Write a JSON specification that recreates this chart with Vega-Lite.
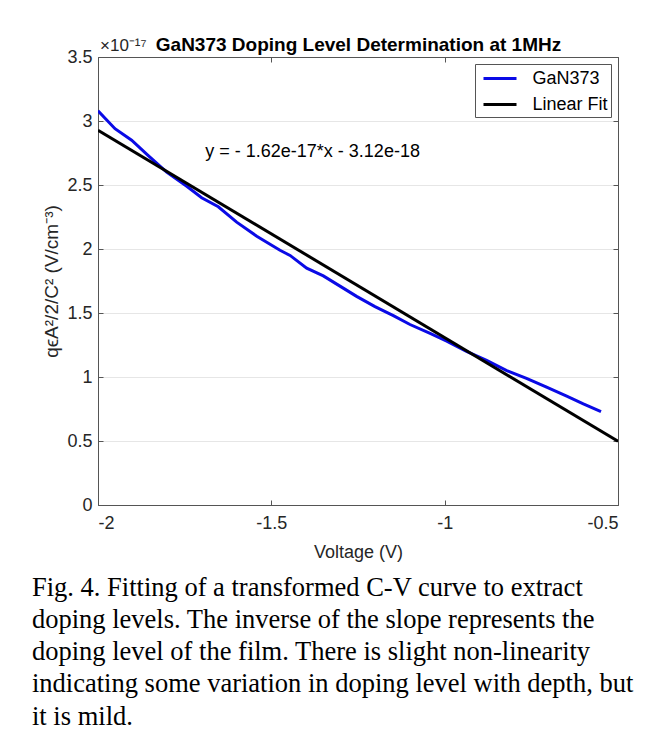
{
  "$schema": "https://vega.github.io/schema/vega-lite/v6.json",
  "width": 520,
  "height": 448,
  "autosize": {"type": "none"},
  "padding": {"left": 98, "top": 57, "right": 48, "bottom": 235},
  "background": "white",
  "config": {
    "view": {"stroke": null},
    "font": "Liberation Sans"
  },
  "title": {
    "text": [
      "Fig. 4. Fitting of a transformed C-V curve to extract",
      "doping levels. The inverse of the slope represents the",
      "doping level of the film. There is slight non-linearity",
      "indicating some variation in doping level with depth, but",
      "it is mild."
    ],
    "orient": "bottom",
    "anchor": "start",
    "frame": "group",
    "dx": -66,
    "offset": 13.5,
    "font": "Liberation Serif",
    "fontSize": 26.5,
    "fontWeight": "normal",
    "color": "#000000",
    "lineHeight": 32.3,
    "baseline": "top"
  },
  "data": {
    "values": [
      {"V": -2.000, "Q": 3.08, "series": "GaN373"},
      {"V": -1.951, "Q": 2.94, "series": "GaN373"},
      {"V": -1.903, "Q": 2.85, "series": "GaN373"},
      {"V": -1.855, "Q": 2.73, "series": "GaN373"},
      {"V": -1.802, "Q": 2.60, "series": "GaN373"},
      {"V": -1.744, "Q": 2.49, "series": "GaN373"},
      {"V": -1.701, "Q": 2.40, "series": "GaN373"},
      {"V": -1.653, "Q": 2.33, "series": "GaN373"},
      {"V": -1.600, "Q": 2.21, "series": "GaN373"},
      {"V": -1.542, "Q": 2.10, "series": "GaN373"},
      {"V": -1.475, "Q": 1.99, "series": "GaN373"},
      {"V": -1.446, "Q": 1.95, "series": "GaN373"},
      {"V": -1.398, "Q": 1.85, "series": "GaN373"},
      {"V": -1.350, "Q": 1.79, "series": "GaN373"},
      {"V": -1.302, "Q": 1.71, "series": "GaN373"},
      {"V": -1.254, "Q": 1.63, "series": "GaN373"},
      {"V": -1.201, "Q": 1.55, "series": "GaN373"},
      {"V": -1.148, "Q": 1.48, "series": "GaN373"},
      {"V": -1.100, "Q": 1.41, "series": "GaN373"},
      {"V": -1.042, "Q": 1.34, "series": "GaN373"},
      {"V": -0.994, "Q": 1.28, "series": "GaN373"},
      {"V": -0.937, "Q": 1.20, "series": "GaN373"},
      {"V": -0.879, "Q": 1.13, "series": "GaN373"},
      {"V": -0.821, "Q": 1.05, "series": "GaN373"},
      {"V": -0.764, "Q": 0.99, "series": "GaN373"},
      {"V": -0.706, "Q": 0.92, "series": "GaN373"},
      {"V": -0.648, "Q": 0.85, "series": "GaN373"},
      {"V": -0.600, "Q": 0.79, "series": "GaN373"},
      {"V": -0.549, "Q": 0.73, "series": "GaN373"},
      {"V": -2.000, "Q": 2.928, "series": "Linear Fit"},
      {"V": -0.500, "Q": 0.498, "series": "Linear Fit"}
    ]
  },
  "layer": [
    {
      "mark": {"type": "line", "strokeWidth": 3, "clip": true},
      "encoding": {
        "x": {
          "field": "V", "type": "quantitative",
          "scale": {"domain": [-2, -0.5], "nice": false, "zero": false},
          "axis": {
            "orient": "bottom",
            "values": [-2, -1.5, -1, -0.5],
            "labelExpr": "'' + datum.value",
            "grid": false,
            "tickSize": -5, "tickColor": "#555555", "domainColor": "#555555",
            "labelFont": "Liberation Sans", "labelFontSize": 18, "labelColor": "#262626",
            "labelPadding": 14,
            "title": "Voltage (V)",
            "titleFont": "Liberation Sans", "titleFontSize": 18, "titleFontWeight": "normal", "titleColor": "#262626",
            "titlePadding": 11
          }
        },
        "y": {
          "field": "Q", "type": "quantitative",
          "scale": {"domain": [0, 3.5], "nice": false, "zero": false},
          "axis": {
            "orient": "left",
            "values": [0, 0.5, 1, 1.5, 2, 2.5, 3, 3.5],
            "labelExpr": "'' + datum.value",
            "grid": true, "gridColor": "#e6e6e6",
            "tickSize": -5, "tickColor": "#555555", "domainColor": "#555555",
            "labelFont": "Liberation Sans", "labelFontSize": 18, "labelColor": "#262626",
            "labelPadding": 11,
            "title": "qϵA²/2/C² (V/cm⁻³)",
            "titleFont": "Liberation Sans", "titleFontSize": 19, "titleFontWeight": "normal", "titleColor": "#262626",
            "titlePadding": 5
          }
        },
        "color": {
          "field": "series", "type": "nominal",
          "scale": {"domain": ["GaN373", "Linear Fit"], "range": ["#0a0ae6", "#000000"]},
          "legend": {
            "orient": "top-right", "offset": 7, "title": null,
            "symbolType": "M-1.65,0L1.65,0", "symbolSize": 400, "symbolStrokeWidth": 3,
            "symbolOffset": 10.5,
            "labelFont": "Liberation Sans", "labelFontSize": 18, "labelColor": "#000000",
            "labelOffset": 21, "padding": 3, "rowPadding": 5,
            "strokeColor": "#555555", "fillColor": "#ffffff",
            "labelExpr": "datum.label == 'Linear Fit' ? '\u00a0\u00a0\u00a0Linear Fit' : datum.label"
          }
        }
      }
    },
    {
      "data": {"values": [{"V": -1.381, "Q": 2.758, "label": "y = - 1.62e-17*x - 3.12e-18"}]},
      "mark": {"type": "text", "font": "Liberation Sans", "fontSize": 18, "color": "#000000", "align": "center", "baseline": "middle"},
      "encoding": {
        "x": {
          "field": "V", "type": "quantitative",
          "axis": {
            "orient": "top", "values": [-2, -1.5, -1, -0.5], "labels": false, "grid": false,
            "tickSize": -5, "tickColor": "#555555", "domainColor": "#555555",
            "title": "GaN373 Doping Level Determination at 1MHz",
            "titleFont": "Liberation Sans", "titleFontSize": 19, "titleFontWeight": "bold", "titleColor": "#000000",
            "titlePadding": 2
          }
        },
        "y": {
          "field": "Q", "type": "quantitative",
          "axis": {
            "orient": "right", "values": [0, 0.5, 1, 1.5, 2, 2.5, 3, 3.5], "labels": false, "grid": false,
            "tickSize": -5, "tickColor": "#555555", "domainColor": "#555555", "title": null
          }
        },
        "text": {"field": "label", "type": "nominal"}
      }
    },
    {
      "data": {"values": [{"V": -2, "Q": 3.5, "label": "×10⁻¹⁷"}]},
      "mark": {"type": "text", "font": "Liberation Sans", "fontSize": 17, "color": "#262626", "align": "left", "baseline": "alphabetic", "dx": 2, "dy": -6},
      "encoding": {
        "x": {"field": "V", "type": "quantitative", "axis": null},
        "y": {"field": "Q", "type": "quantitative", "axis": null},
        "text": {"field": "label", "type": "nominal"}
      }
    }
  ],
  "resolve": {"axis": {"x": "independent", "y": "independent"}}
}
